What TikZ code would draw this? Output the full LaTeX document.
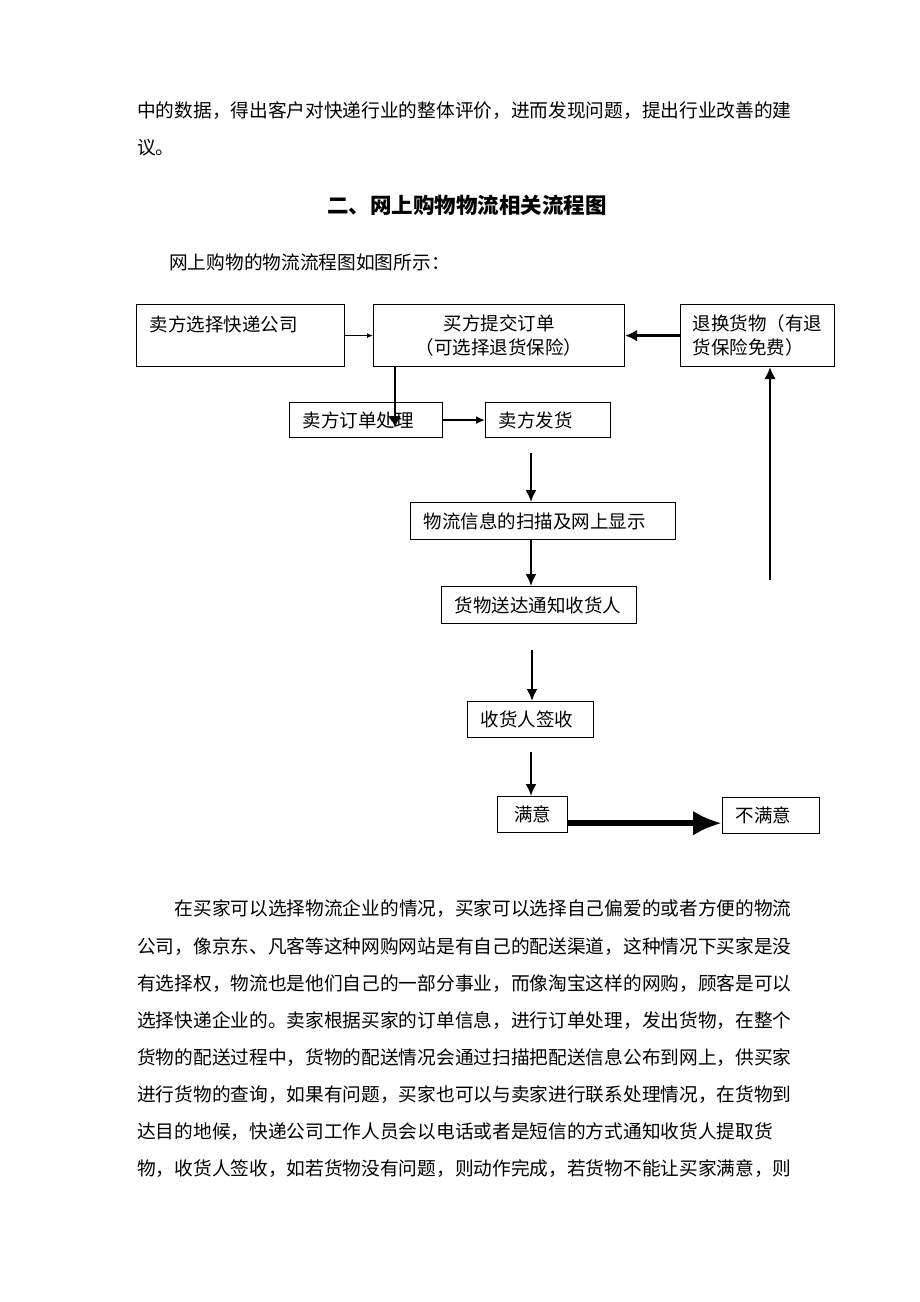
\documentclass[tikz,border=0pt]{standalone}
\usepackage{fontspec}
\setmainfont{Noto Sans CJK SC}
\usetikzlibrary{arrows.meta}

\tikzset{
  txt/.style={anchor=west, inner sep=0pt, font=\fontsize{18.7}{24}\selectfont},
  head/.style={inner sep=0pt, font=\fontsize{21.5}{26}\selectfont\bfseries},
  box/.style={draw, line width=1.2pt, anchor=north west, inner xsep=13pt, inner ysep=0pt,
    align=left, font=\fontsize{18.5}{24}\selectfont},
  thinarr/.style={-{Latex[length=6pt,width=5pt]}, line width=1.3pt},
  smallarr/.style={-{Latex[length=9pt,width=8pt]}, line width=2pt},
  arr/.style={-{Latex[length=12pt,width=11pt]}, line width=2pt},
  midarr/.style={-{Latex[length=12pt,width=12pt]}, line width=2.6pt},
  bigarr/.style={-{Latex[length=29pt,width=25pt]}, line width=6pt}
}

\begin{document}
\begin{tikzpicture}[x=1pt, y=-1pt]
  \useasboundingbox[fill=white] (0,0) rectangle (920,1302);

  % text before the chart
  \node[txt] (top1) at (137,111) {中的数据，得出客户对快递行业的整体评价，进而发现问题，提出行业改善的建};
  \node[txt] (top2) at (137,148) {议。};
  \node[head] (title) at (467,205) {二、网上购物物流相关流程图};
  \node[txt] (intro) at (169,262) {网上购物的物流流程图如图所示：};

  % boxes
  \node[box, text width=182pt, minimum height=62pt] (pick) at (136,304) {卖方选择快递公司\\ \mbox{}};
  \node[box, text width=225pt, minimum height=62pt, align=center] (order) at (373,304) {买方提交订单\\（可选择退货保险）};
  \node[box, inner xsep=12pt, text width=130pt, minimum height=62pt] (back) at (680,304) {退换货物（有退\\货保险免费）};
  \node[box, text width=127pt, minimum height=35pt] (proc) at (289,402) {卖方订单处理};
  \node[box, text width=99pt, minimum height=35pt] (ship) at (485,402) {卖方发货};
  \node[box, text width=239pt, minimum height=37pt] (scan) at (410,502) {物流信息的扫描及网上显示};
  \node[box, text width=169pt, minimum height=37pt] (note) at (441,586) {货物送达通知收货人};
  \node[box, text width=100pt, minimum height=36pt] (sign) at (467,701) {收货人签收};
  \node[box, inner xsep=16.5pt, text width=37pt, minimum height=36pt] (ok) at (497,796) {满意};
  \node[box, text width=71pt, minimum height=36pt] (notok) at (722,797) {不满意};

  % connectors
  \draw[thinarr] (pick) -- (order);
  \draw[midarr] (back) -- (order);
  \coordinate (d1) at (395,428);
  \draw[midarr] (order.south -| d1) -- (d1);
  \draw[smallarr] (proc) -- (ship);
  \coordinate (d2) at (531,453);
  \draw[arr] (d2) -- (d2 |- scan.north);
  \draw[arr] (scan.south -| d2) -- (d2 |- note.north);
  \coordinate (d3) at (532,650);
  \draw[arr] (d3) -- (d3 |- sign.north);
  \coordinate (d4) at (531,752);
  \draw[arr] (d4) -- (d4 |- ok.north);
  \coordinate (d5) at (770,580);
  \draw[midarr] (d5) -- (d5 |- back.south);
  \draw[bigarr] (ok.south east) ++(0,-10) coordinate (m) -- (m -| notok.west);

  % text after the chart
  \foreach \t [count=\i] in {在买家可以选择物流企业的情况，买家可以选择自己偏爱的或者方便的物流,
      公司，像京东、凡客等这种网购网站是有自己的配送渠道，这种情况下买家是没,
      有选择权，物流也是他们自己的一部分事业，而像淘宝这样的网购，顾客是可以,
      选择快递企业的。卖家根据买家的订单信息，进行订单处理，发出货物，在整个,
      货物的配送过程中，货物的配送情况会通过扫描把配送信息公布到网上，供买家,
      进行货物的查询，如果有问题，买家也可以与卖家进行联系处理情况，在货物到,
      达目的地候，快递公司工作人员会以电话或者是短信的方式通知收货人提取货,
      物，收货人签收，如若货物没有问题，则动作完成，若货物不能让买家满意，则} {
    \pgfmathsetmacro{\x}{\i==1 ? 174.4 : 137}
    \pgfmathsetmacro{\y}{909+37.1*(\i-1)}
    \node[txt] (line\i) at (\x,\y) {\t};
  }
\end{tikzpicture}
\end{document}
